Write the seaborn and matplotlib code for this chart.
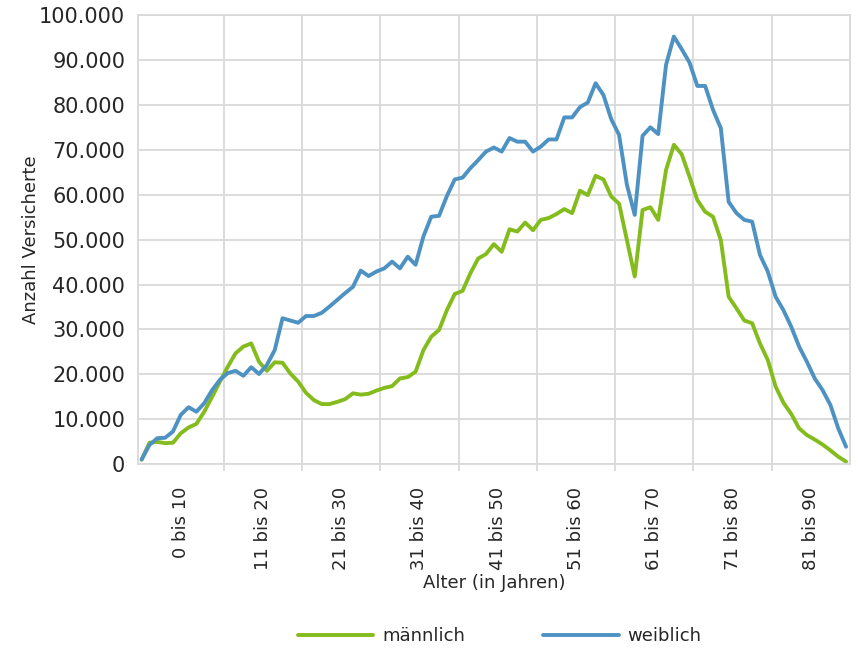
import matplotlib
matplotlib.use('Agg')
import matplotlib.pyplot as plt
from matplotlib.ticker import FuncFormatter, FixedLocator, MultipleLocator, NullFormatter
import seaborn as sns
import pandas as pd

sns.set_style('whitegrid')
plt.rcParams['font.family'] = ['DejaVu Sans']

#################################################################################
# data (Anzahl Versicherte in Tausend, Alter 0 bis 90)

alter = list(range(91))

maennlich = [1.0, 4.8, 5.0, 4.7, 4.8, 6.9, 8.2, 9.0, 11.7, 15.0,
             18.4, 21.7, 24.7, 26.2, 26.9, 22.8, 20.8, 22.7, 22.6, 20.2,
             18.4, 15.9, 14.3, 13.4, 13.4, 13.9, 14.5, 15.8, 15.5, 15.7,
             16.4, 17.0, 17.4, 19.1, 19.4, 20.6, 25.4, 28.4, 29.9, 34.3,
             37.9, 38.6, 42.5, 45.8, 46.8, 49.0, 47.3, 52.3, 51.8, 53.8,
             52.1, 54.4, 54.8, 55.7, 56.8, 55.9, 60.9, 59.9, 64.2, 63.4,
             59.6, 58.0, 49.9, 41.8, 56.6, 57.2, 54.4, 65.5, 71.1, 69.0,
             64.0, 58.8, 56.2, 55.1, 49.9, 37.3, 34.7, 32.0, 31.4, 26.9,
             23.2, 17.3, 13.7, 11.2, 8.0, 6.5, 5.5, 4.4, 3.1, 1.7,
             0.6]

weiblich = [1.1, 4.3, 5.8, 5.9, 7.3, 11.0, 12.7, 11.7, 13.6, 16.5,
            18.8, 20.3, 20.8, 19.7, 21.6, 20.1, 22.1, 25.4, 32.5, 32.0,
            31.5, 33.0, 33.0, 33.7, 35.1, 36.6, 38.1, 39.5, 43.1, 41.9,
            42.9, 43.6, 45.1, 43.6, 46.2, 44.4, 50.7, 55.1, 55.3, 59.7,
            63.4, 63.8, 65.9, 67.7, 69.6, 70.5, 69.6, 72.6, 71.8, 71.8,
            69.6, 70.7, 72.3, 72.3, 77.2, 77.2, 79.5, 80.5, 84.8, 82.2,
            76.8, 73.3, 62.2, 55.5, 73.1, 75.0, 73.5, 88.9, 95.2, 92.4,
            89.4, 84.2, 84.2, 78.9, 74.8, 58.4, 55.9, 54.4, 54.0, 46.6,
            42.9, 37.3, 34.3, 30.6, 26.2, 22.8, 19.1, 16.5, 13.2, 8.0,
            3.9]

gruppen = ['0 bis 10', '11 bis 20', '21 bis 30', '31 bis 40', '41 bis 50',
           '51 bis 60', '61 bis 70', '71 bis 80', '81 bis 90']

df = pd.DataFrame({
    'Alter': alter + alter,
    'Anzahl': [v * 1000 for v in maennlich + weiblich],
    'Geschlecht': ['männlich'] * len(alter) + ['weiblich'] * len(alter),
})

#################################################################################
# plot

fig = plt.figure(figsize=(8.57, 6.48), dpi=100)
ax = fig.add_axes([0.1607, 0.2835, 0.8311, 0.6934])

sns.lineplot(data=df, x='Alter', y='Anzahl', hue='Geschlecht',
             palette={'männlich': '#84bc1e', 'weiblich': '#4d92c2'},
             linewidth=2.8, ax=ax)

grid_col = '#d9d9d9'
ax.set_xlim(-0.5, 90.5)
ax.set_ylim(0, 100000)

# y axis: 0 .. 100.000
ax.yaxis.set_major_locator(MultipleLocator(10000))
ax.yaxis.set_major_formatter(FuncFormatter(lambda v, p: f'{v:,.0f}'.replace(',', '.')))
ax.tick_params(axis='y', length=0, pad=9, labelsize=15)

# x axis: gridlines between the age groups, labels in the middle of the groups
grenzen = [10.5 + 10 * i for i in range(8)]
mitten = [5] + [15.5 + 10 * i for i in range(8)]
ax.xaxis.set_major_locator(FixedLocator(grenzen))
ax.xaxis.set_major_formatter(NullFormatter())
ax.set_xticks(mitten, gruppen, minor=True)
ax.tick_params(axis='x', which='major', bottom=True, length=5, width=1.3, color=grid_col)
ax.tick_params(axis='x', which='minor', bottom=True, length=0, pad=16,
               labelsize=13, labelrotation=90)

ax.grid(True, which='major', color=grid_col, linewidth=1.3)
for s in ax.spines.values():
    s.set_color(grid_col)
    s.set_linewidth(1.3)

ax.set_xlabel('Alter (in Jahren)', fontsize=13)
ax.set_ylabel('Anzahl Versicherte', fontsize=13)
ax.xaxis.set_label_coords(0.5, -0.245)
ax.yaxis.set_label_coords(-0.137, 0.5)

# legend at the bottom
handles, labels = ax.get_legend_handles_labels()
ax.legend_.remove()
fig.legend(handles, labels, loc='center', bbox_to_anchor=(0.583, 0.018),
           ncol=2, frameon=False, fontsize=13, handlelength=4.2,
           columnspacing=4.3, handletextpad=0.5)

plt.savefig('out.png', dpi=100)
